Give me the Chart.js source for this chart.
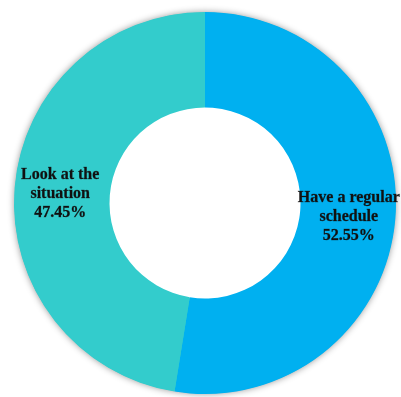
<!DOCTYPE html>
<html>
<head>
<meta charset="utf-8">
<script src="https://cdn.jsdelivr.net/npm/chart.js@4/dist/chart.umd.min.js"></script>
<style>
  html, body { margin: 0; padding: 0; background: #ffffff; }
  #wrap { width: 401px; height: 397px; }
</style>
</head>
<body>
<div id="wrap"><canvas id="c" width="401" height="397"></canvas></div>
<script>
// Survey answers and their shares (percent)
const categories = ['Have a regular schedule', 'Look at the situation'];
const labelLines = [['Have a regular', 'schedule'], ['Look at the', 'situation']];
const shares = [52.55, 47.45];
const colors = ['#00B0F0', '#33CCCC'];

// Soft drop shadow around the outer rim of the ring only
const rimShadow = {
  id: 'rimShadow',
  beforeDatasetsDraw(chart) {
    const arc = chart.getDatasetMeta(0).data[0];
    if (!arc) return;
    const { x, y, outerRadius, innerRadius } = arc.getProps(['x', 'y', 'outerRadius', 'innerRadius'], true);
    const ctx = chart.ctx;
    ctx.save();
    ctx.beginPath();
    ctx.rect(0, 0, chart.width, chart.height);
    ctx.arc(x, y, innerRadius + 1, 0, Math.PI * 2);
    ctx.clip('evenodd');
    ctx.shadowColor = 'rgba(0,0,0,0.45)';
    ctx.shadowBlur = 7;
    ctx.shadowOffsetX = 0;
    ctx.shadowOffsetY = 0;
    ctx.fillStyle = colors[1];
    ctx.beginPath();
    ctx.arc(x, y, outerRadius - 0.5, 0, Math.PI * 2);
    ctx.fill();
    ctx.restore();
  }
};

// Category name and percentage written in the middle of each slice
const sliceLabels = {
  id: 'sliceLabels',
  afterDatasetsDraw(chart) {
    const ctx = chart.ctx;
    const meta = chart.getDatasetMeta(0);
    ctx.save();
    ctx.font = 'bold 16px "Liberation Serif", "Times New Roman", serif';
    ctx.fillStyle = '#111111';
    ctx.strokeStyle = 'rgba(17,17,17,0.6)';
    ctx.lineWidth = 0.4;
    ctx.textAlign = 'center';
    ctx.textBaseline = 'middle';
    const lh = 19;
    meta.data.forEach((arc, i) => {
      const pos = arc.tooltipPosition(true);
      const cx = pos.x + (pos.x > arc.x ? 1 : -2);
      const lines = labelLines[i].concat([shares[i].toFixed(2) + '%']);
      const top = pos.y - (lines.length - 1) * lh / 2;
      lines.forEach((t, k) => {
        ctx.fillText(t, cx, top + k * lh + 2.5);
        ctx.strokeText(t, cx, top + k * lh + 2.5);
      });
    });
    ctx.restore();
  }
};

new Chart(document.getElementById('c'), {
  type: 'doughnut',
  data: {
    labels: categories,
    datasets: [{
      data: shares,
      backgroundColor: colors,
      borderWidth: 0,
      hoverOffset: 0
    }]
  },
  options: {
    responsive: false,
    animation: false,
    cutout: '50%',
    layout: { padding: { left: 14, right: 5, top: 12, bottom: 3 } },
    plugins: {
      legend: { display: false },
      tooltip: { enabled: false }
    }
  },
  plugins: [rimShadow, sliceLabels]
});
</script>
</body>
</html>
